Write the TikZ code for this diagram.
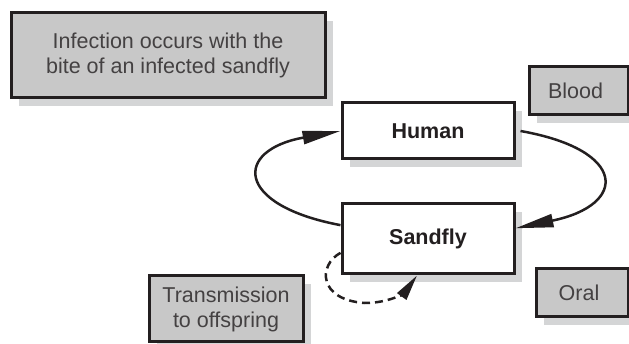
\documentclass[tikz,border=0pt]{standalone}
\usepackage{fontspec}
\setmainfont{Liberation Sans}
\usepackage{tikz}
\usetikzlibrary{shapes, shadows, arrows.meta}
\definecolor{ink}{RGB}{35, 31, 32}
\definecolor{panel}{RGB}{200, 200, 200}
\definecolor{shade}{RGB}{212, 213, 214}
\newcommand*{\lw}{3}

\begin{document}
\begin{tikzpicture}[
   x=1pt, y=-1pt,
   infobox/.style={rectangle, draw=ink, fill=panel, line width=\lw, text=ink!85, align=center,
                   inner sep=0, font=\fontsize{21.5}{25}\selectfont,
                   drop shadow={shadow xshift=8pt, shadow yshift=-8pt, fill=shade, opacity=1}},
   hostbox/.style={rectangle, draw=ink, fill=white, line width=\lw, text=ink,
                   inner sep=0, minimum width=172, font=\fontsize{21.5}{25}\selectfont\bfseries,
                   drop shadow={shadow xshift=8pt, shadow yshift=-8pt, fill=shade, opacity=1}},
   cycle/.style={-{Triangle[length=38pt, width=13pt]}, draw=ink, line width=2.5},
   offspring/.style={-{Triangle[length=26pt, width=11pt]}, draw=ink, line width=2.5,
                     dash pattern=on 8pt off 5pt}
  ]

  \useasboundingbox (0, 0) rectangle (629, 344);

  % boxes
  \node (bite) at (168, 55.5) [infobox, minimum width=314, minimum height=85]
    { Infection occurs with the\\ bite of an infected sandfly };
  \node (blood) at (578.5, 91) [infobox, minimum width=99, minimum height=48] { Blood };
  \node (oral) at (582, 293) [infobox, minimum width=92, minimum height=48] { Oral };
  \node (offsp) at (226, 309) [infobox, minimum width=154, minimum height=66]
    { Transmission\\ to offspring };

  \node (human) at (428, 131) [hostbox, minimum height=56] { Human };
  \node (sandfly) at (428, 239) [hostbox, minimum height=70] { Sandfly };

  % cycle
  \draw[cycle] (sandfly.171) .. controls (234, 205) and (234, 150) .. (human.west);
  \draw[cycle] ([xshift=5pt]human.east) .. controls (628, 150) and (628, 205) .. (sandfly.7);
  \draw[offspring] (sandfly.189) .. controls (318, 265) and (318, 300) .. (365, 303)
    .. controls (390, 303) and (405, 292) .. ([xshift=-11pt]sandfly.south);

\end{tikzpicture}
\end{document}
